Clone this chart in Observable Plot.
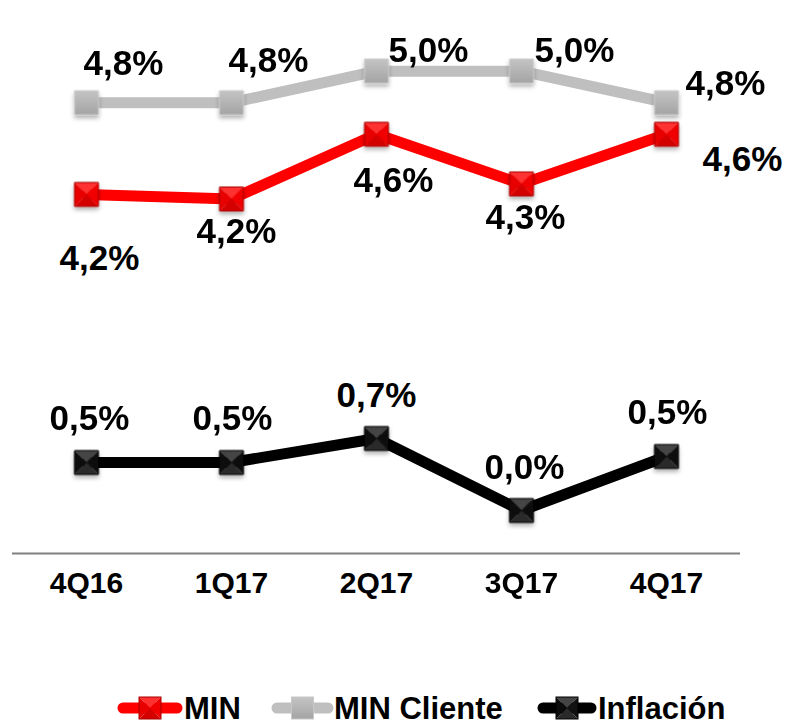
<!DOCTYPE html>
<html><head><meta charset="utf-8">
<script src="https://cdn.jsdelivr.net/npm/d3@7"></script>
<script src="https://cdn.jsdelivr.net/npm/@observablehq/plot@0.6"></script>
<style>
body{margin:0;background:#fff;font-family:Arial,"Liberation Sans",sans-serif;}
#wrap{position:relative;width:790px;height:725px;overflow:hidden;background:#fff}
#legend{position:absolute;left:0;top:640px;width:790px;height:85px}
</style></head><body>
<div id="wrap"><div id="chart"></div><svg id="legend" width="790" height="85"></svg></div>
<script>
// ---- data ----
const quarters = ["4Q16", "1Q17", "2Q17", "3Q17", "4Q17"];
const seriesNames = ["MIN", "MIN Cliente", "Inflación"];
const minValues = [4.20, 4.17, 4.60, 4.27, 4.60];
const minClienteValues = [4.81, 4.81, 5.02, 5.02, 4.81];
const inflacionValues = [0.48, 0.48, 0.72, 0.00, 0.54];

// ---- layout / style ----
const seriesColors = ["#ff0000", "#bfbfbf", "#000000"];
const markerFills = ["url(#pyrRed)", "url(#gradGray)", "url(#pyrBlack)"];
const markerEdges = ["#a80000", "#c8c8c8", "#000000"];
const labelOffsets = {
  "MIN": [[13, 64], [5, 33], [17, 46], [4, 34], [76, 25]],
  "MIN Cliente": [[37, -39], [37, -42], [52, -20], [53, -20], [59, -19]],
  "Inflación": [[3, -44], [1, -44], [0, -43], [3, -43], [1, -44]]
};

const valuesBySeries = [minValues, minClienteValues, inflacionValues];
const rows = [];
seriesNames.forEach((s, i) => quarters.forEach((q, j) => rows.push({series: s, q, value: valuesBySeries[i][j], j})));
const fmt = v => d3.format(".1f")(v).replace(".", ",") + "%";

const marks = [
  Plot.ruleY([-0.43], {stroke: "#808080", strokeWidth: 2}),
  Plot.line(rows, {x: "q", y: "value", z: "series", stroke: "series", strokeWidth: 11, strokeLinejoin: "round"}),
];
seriesNames.forEach((s, i) => {
  marks.push(Plot.dot(rows.filter(d => d.series === s), {
    x: "q", y: "value", symbol: "square", r: 13.5,
    fill: markerFills[i], stroke: markerEdges[i], strokeWidth: 1
  }));
});
seriesNames.forEach(s => {
  rows.filter(d => d.series === s).forEach(d => {
    const [dx, dy] = labelOffsets[s][d.j];
    marks.push(Plot.text([d], {
      x: "q", y: "value", text: d => fmt(d.value), dx, dy,
      fontSize: 35, fontWeight: "bold", fill: "#000",
      fontFamily: "Arial, 'Liberation Sans', sans-serif"
    }));
  });
});
marks.push(Plot.text(quarters, {
  x: d => d, frameAnchor: "bottom", dy: 39, text: d => d,
  fontSize: 30, fontWeight: "bold", fill: "#000",
  fontFamily: "Arial, 'Liberation Sans', sans-serif"
}));

const chart = Plot.plot({
  width: 790, height: 640,
  marginLeft: 12, marginRight: 50, marginTop: 0, marginBottom: 87,
  x: {type: "point", domain: quarters, padding: 0.5, axis: null},
  y: {type: "linear", domain: [-0.43, 1.0, 4.0, 5.49], range: [553, 410, 224, 0], axis: null},
  color: {domain: seriesNames, range: seriesColors},
  style: {background: "white", overflow: "visible"},
  marks
});
document.getElementById("chart").appendChild(chart);

// ---- defs (patterns, gradients, shadow) in legend svg ----
const leg = d3.select("#legend");
const defs = leg.append("defs");
function pyramid(id, top, right, bottom, left) {
  const p = defs.append("pattern").attr("id", id)
    .attr("patternUnits", "objectBoundingBox").attr("patternContentUnits", "objectBoundingBox")
    .attr("width", 1).attr("height", 1);
  p.append("polygon").attr("points", "0,0 1,0 0.5,0.5").attr("fill", top);
  p.append("polygon").attr("points", "1,0 1,1 0.5,0.5").attr("fill", right);
  p.append("polygon").attr("points", "0,1 1,1 0.5,0.5").attr("fill", bottom);
  p.append("polygon").attr("points", "0,0 0,1 0.5,0.5").attr("fill", left);
}
pyramid("pyrRed", "#ff3030", "#f00000", "#d40000", "#e80000");
pyramid("pyrBlack", "#444444", "#111111", "#2a2a2a", "#0a0a0a");
const g = defs.append("linearGradient").attr("id", "gradGray").attr("x1", 0).attr("y1", 0).attr("x2", 0).attr("y2", 1);
g.append("stop").attr("offset", 0).attr("stop-color", "#c4c4c4");
g.append("stop").attr("offset", 1).attr("stop-color", "#a4a4a4");
const f = defs.append("filter").attr("id", "shadow").attr("x", "-50%").attr("y", "-50%").attr("width", "200%").attr("height", "200%");
f.append("feDropShadow").attr("dx", 0).attr("dy", 3).attr("stdDeviation", 2).attr("flood-color", "#000").attr("flood-opacity", 0.3);

d3.select(chart).selectAll('g[aria-label="dot"]').attr("filter", "url(#shadow)");

// ---- legend ----
const legendItems = [
  {name: "MIN", x1: 118, x2: 182, tx: 184},
  {name: "MIN Cliente", x1: 272, x2: 333, tx: 334},
  {name: "Inflación", x1: 538, x2: 596, tx: 598}
];
const cy = 68;
legendItems.forEach((it, i) => {
  const gi = leg.append("g");
  gi.append("line").attr("x1", it.x1 + 5).attr("x2", it.x2 - 5).attr("y1", cy).attr("y2", cy)
    .attr("stroke", seriesColors[i]).attr("stroke-width", 11).attr("stroke-linecap", "round");
  const mx = (it.x1 + it.x2) / 2;
  gi.append("rect").attr("x", mx - 11).attr("y", cy - 11).attr("width", 22).attr("height", 22)
    .attr("fill", markerFills[i]).attr("stroke", markerEdges[i]).attr("stroke-width", 1);
  gi.append("text").attr("x", it.tx).attr("y", 79).text(it.name)
    .attr("font-size", 31).attr("font-weight", "bold").attr("fill", "#000")
    .attr("font-family", "Arial, 'Liberation Sans', sans-serif");
});
</script>
</body></html>
